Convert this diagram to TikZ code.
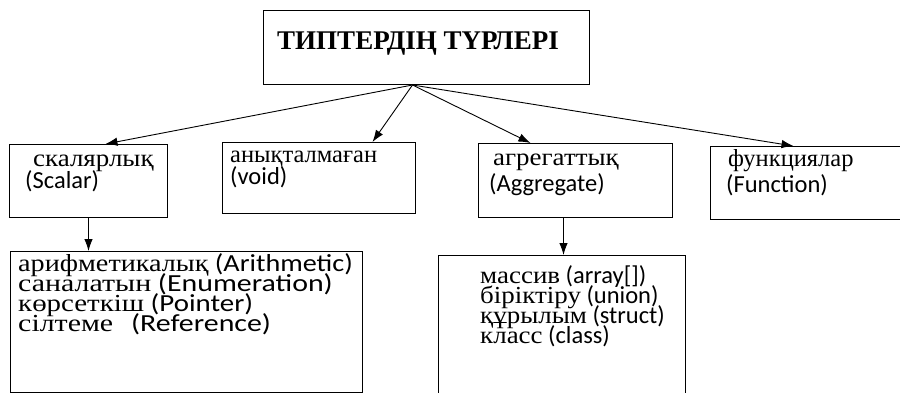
\documentclass[tikz,border=0pt]{standalone}
\usepackage{fontspec}
\setmainfont{Carlito}
\newfontfamily\cy{Liberation Serif}
\newfontfamily\cyb[FakeStretch=1.1]{Liberation Serif}
\usetikzlibrary{arrows.meta}
\begin{document}
\begin{tikzpicture}[x=1pt,y=-1pt,
  box/.style={draw,line width=1pt,inner sep=0pt,anchor=north west},
  txt/.style={inner sep=0pt,anchor=base west,font=\fontsize{24.5}{24.5}\selectfont},
  arr/.style={line width=0.9pt,-{Latex[length=12pt,width=8.5pt]}}]
\useasboundingbox (0,0) rectangle (900,393);
% boxes
\node[box,minimum width=326pt,minimum height=74pt] (title) at (263,10) {};
\node[box,minimum width=158pt,minimum height=73pt] (scalar) at (9,144) {};
\node[box,minimum width=193pt,minimum height=71pt] (void) at (222,142) {};
\node[box,minimum width=194pt,minimum height=74pt] (agg) at (478,143) {};
\node[box,minimum width=200pt,minimum height=73pt] (func) at (710,146) {};
\node[box,minimum width=352pt,minimum height=141pt] (bl) at (10,251) {};
\node[box,minimum width=247pt,minimum height=160pt] (br) at (438,255) {};
% texts
\node[inner sep=0pt,anchor=base,font=\cy\bfseries\fontsize{27}{27}\selectfont] (titleT) at (418,50) {ТИПТЕРДІҢ ТҮРЛЕРІ};
\node[txt] (s1) at (33,167) {\cyb скалярлық};
\node[txt] (s2) at (25,189) {(Scalar)};
\node[txt] (v1) at (230,163) {\cy анықталмаған};
\node[txt] (v2) at (230,185) {(void)};
\node[txt] (a1) at (493,166) {\cyb агрегаттық};
\node[txt] (a2) at (489,191) {(Aggregate)};
\node[txt] (f1) at (728,167) {\cy функциялар};
\node[txt] (f2) at (726,193) {(Function)};
\node[txt,xscale=1.15] (b1) at (18,271) {{\cy арифметикалық} (Arithmetic)};
\node[txt,xscale=1.22] (b2) at (18,291) {{\cy саналатын} (Enumeration)};
\node[txt,xscale=1.18] (b3) at (18,311) {{\cy көрсеткіш} (Pointer)};
\node[txt,xscale=1.22] (b4) at (18,331.5) {{\cy сілтеме}\hspace{0.6em}(Reference)};
\node[txt] (r1) at (480,283) {{\cyb массив} (array[])};
\node[txt] (r2) at (480,303) {{\cyb біріктіру} (union)};
\node[txt] (r3) at (480,323) {{\cyb құрылым} (struct)};
\node[txt] (r4) at (480,343) {{\cyb класс} (class)};
% arrows
\coordinate (src) at ([xshift=-14pt]title.south);
\draw[arr] (src) -- ([xshift=17pt]scalar.north);
\draw[arr] (src) -- ([xshift=53.5pt]void.north);
\draw[arr] (src) -- ([xshift=-45pt]agg.north);
\draw[arr] (src) -- ([xshift=-17pt]func.north);
\draw[arr] (scalar.south) -- (scalar.south |- bl.north);
\draw[arr] ([xshift=-12pt]agg.south) -- ([xshift=-12pt]agg.south |- br.north);
\end{tikzpicture}
\end{document}
